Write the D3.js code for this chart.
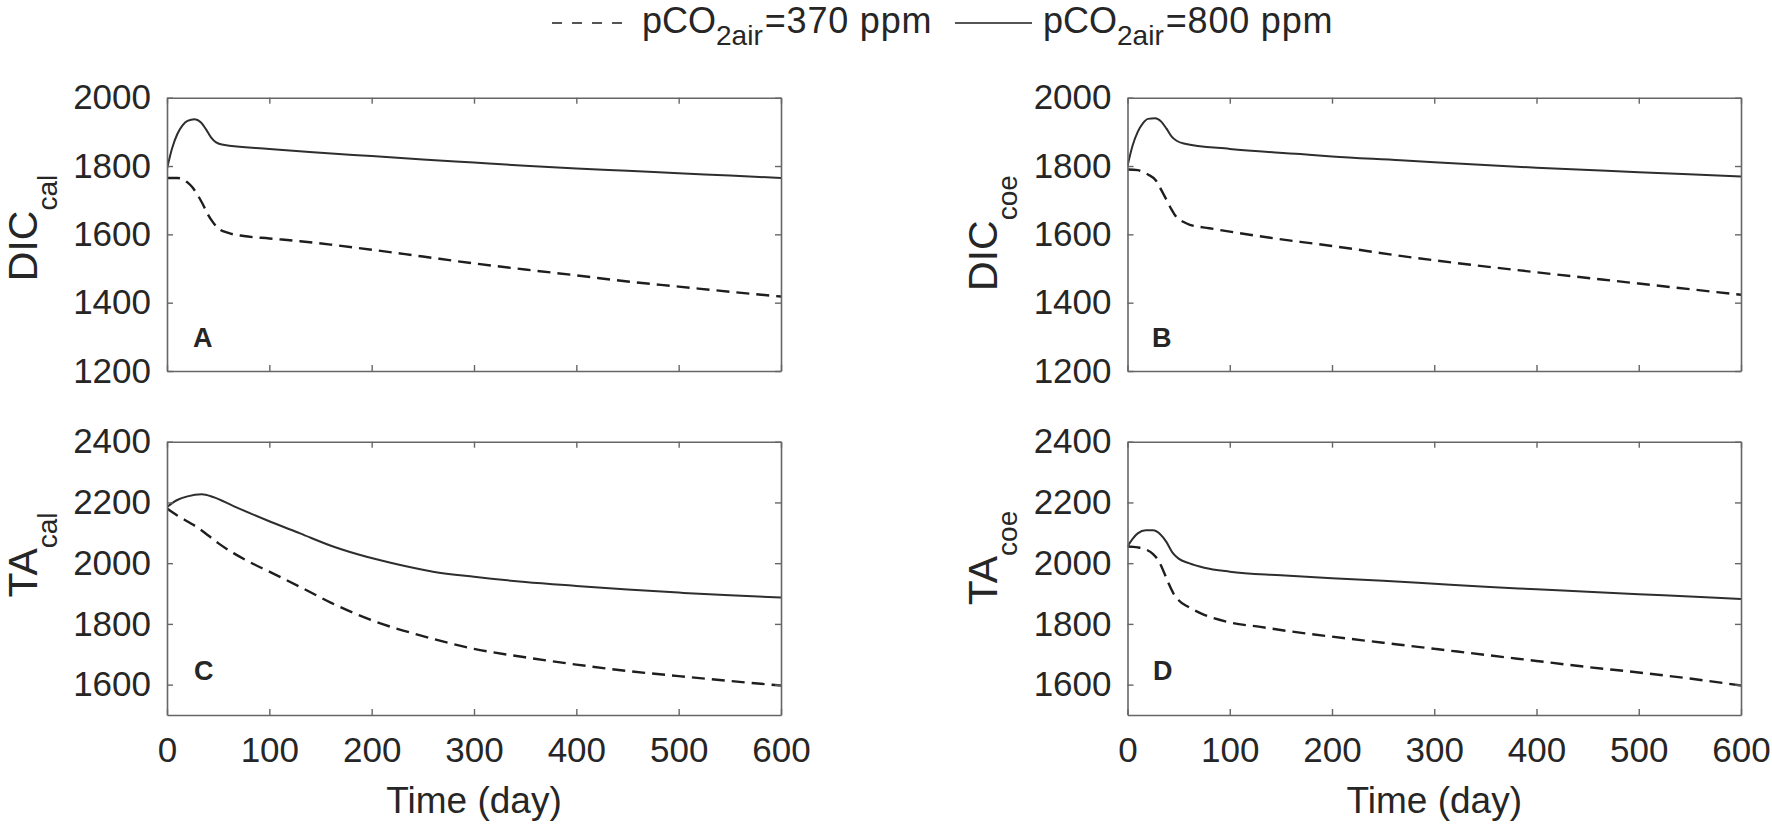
<!DOCTYPE html>
<html>
<head>
<meta charset="utf-8">
<script src="https://cdn.jsdelivr.net/npm/d3@7"></script>
<style>
  body { margin: 0; background: #fff; }
  text { font-family: "Liberation Sans", Arial, Helvetica, sans-serif; fill: #262626; }
</style>
</head>
<body>
<div id="chart"></div>
<script>
// ---- data ----
var xTicks = [0, 100, 200, 300, 400, 500, 600];
var dicTicks = [1200, 1400, 1600, 1800, 2000];
var taTicks = [1600, 1800, 2000, 2200, 2400];
var legendLabels = ["=370 ppm", "=800 ppm"];

// A: DIC_cal
var dicCalDay370 = [0, 10, 15, 20, 25, 30, 35, 40, 45, 50, 60, 75, 100, 130, 160, 200, 250, 300, 350, 400, 450, 500, 550, 600];
var dicCal370 = [1765, 1765, 1762, 1752, 1737, 1715, 1688, 1658, 1635, 1618, 1604, 1595, 1588, 1580, 1570, 1555, 1535, 1515, 1497, 1480, 1462, 1447, 1432, 1418];
var dicCalDay800 = [0, 5, 10, 15, 20, 27, 33, 38, 43, 48, 55, 100, 150, 200, 250, 300, 350, 400, 450, 500, 550, 600];
var dicCal800 = [1792, 1852, 1893, 1918, 1932, 1937, 1928, 1908, 1884, 1869, 1862, 1850, 1839, 1829, 1819, 1810, 1801, 1793, 1786, 1779, 1772, 1765];

// B: DIC_coe
var dicCoeDay370 = [0, 10, 15, 20, 28, 33, 38, 43, 48, 55, 61, 80, 104, 169, 200, 267, 300, 400, 500, 600];
var dicCoe370 = [1790, 1788, 1783, 1775, 1757, 1730, 1702, 1673, 1650, 1636, 1628, 1618, 1606, 1578, 1566, 1537, 1524, 1489, 1456, 1423];
var dicCoeDay800 = [0, 5, 10, 15, 20, 27, 33, 38, 43, 48, 55, 100, 169, 200, 267, 300, 400, 500, 600];
var dicCoe800 = [1800, 1860, 1900, 1925, 1938, 1940, 1930, 1910, 1887, 1874, 1866, 1850, 1835, 1828, 1817, 1811, 1795, 1782, 1769];

// C: TA_cal
var taCalDay370 = [0, 10, 20, 30, 40, 50, 65, 80, 100, 130, 160, 200, 250, 300, 350, 400, 450, 500, 550, 600];
var taCal370 = [2180, 2157, 2137, 2117, 2092, 2066, 2033, 2005, 1972, 1922, 1870, 1812, 1760, 1718, 1690, 1666, 1645, 1628, 1612, 1597];
var taCalDay800 = [0, 10, 20, 34, 45, 65, 97, 130, 163, 195, 228, 260, 300, 350, 400, 450, 500, 550, 600];
var taCal800 = [2185, 2208, 2220, 2227, 2218, 2188, 2142, 2098, 2054, 2021, 1994, 1972, 1955, 1938, 1925, 1913, 1903, 1894, 1887];

// D: TA_coe
var taCoeDay370 = [0, 10, 18, 25, 30, 35, 40, 45, 50, 60, 75, 100, 130, 160, 200, 250, 300, 350, 400, 450, 500, 550, 600];
var taCoe370 = [2055, 2052, 2045, 2030, 2010, 1975, 1935, 1900, 1878, 1855, 1830, 1805, 1790, 1775, 1758, 1738, 1718, 1698, 1678, 1658, 1640, 1620, 1597];
var taCoeDay800 = [0, 5, 10, 18, 25, 32, 38, 44, 50, 60, 75, 100, 150, 200, 250, 300, 350, 400, 450, 500, 550, 600];
var taCoe800 = [2055, 2080, 2098, 2108, 2108, 2095, 2070, 2035, 2015, 2000, 1985, 1972, 1960, 1950, 1942, 1932, 1922, 1914, 1906, 1898, 1890, 1882];

function pairs(days, vals) {
  return days.map(function(d, i){ return [d, vals[i]]; });
}

// ---- layout ----
var W = 1772, H = 827;
var svg = d3.select("#chart").append("svg")
  .attr("width", W).attr("height", H);

var axisColor = "#666";
var lineColor = "#1e1e1e";

var panels = [
  { left: 167, right: 781, top: 97.7, bottom: 371, domain: [1200, 2000], ticks: dicTicks,
    main: "DIC", sub: "cal", labelX: 37, labelY: 228, subDy: 20, letter: "A", letterX: 193, letterY: 347,
    s370: pairs(dicCalDay370, dicCal370), s800: pairs(dicCalDay800, dicCal800), xLabels: false },
  { left: 1127.5, right: 1741, top: 97.7, bottom: 371, domain: [1200, 2000], ticks: dicTicks,
    main: "DIC", sub: "coe", labelX: 997, labelY: 233, subDy: 20, letter: "B", letterX: 1152, letterY: 347,
    s370: pairs(dicCoeDay370, dicCoe370), s800: pairs(dicCoeDay800, dicCoe800), xLabels: false },
  { left: 167, right: 781, top: 441.7, bottom: 715, domain: [1500, 2400], ticks: taTicks,
    main: "TA", sub: "cal", labelX: 37, labelY: 555, subDy: 20, letter: "C", letterX: 194, letterY: 680,
    s370: pairs(taCalDay370, taCal370), s800: pairs(taCalDay800, taCal800), xLabels: true },
  { left: 1127.5, right: 1741, top: 441.7, bottom: 715, domain: [1500, 2400], ticks: taTicks,
    main: "TA", sub: "coe", labelX: 997, labelY: 558, subDy: 20, letter: "D", letterX: 1153, letterY: 680,
    s370: pairs(taCoeDay370, taCoe370), s800: pairs(taCoeDay800, taCoe800), xLabels: true }
];

panels.forEach(function(p, k) {
  var x = d3.scaleLinear().domain([0, 600]).range([p.left, p.right]);
  var y = d3.scaleLinear().domain(p.domain).range([p.bottom, p.top]);
  var g = svg.append("g");

  var line = d3.line()
    .x(function(d){ return x(d[0]); })
    .y(function(d){ return y(d[1]); })
    .curve(d3.curveMonotoneX);

  var clipId = "clip" + k;
  svg.append("clipPath").attr("id", clipId).append("rect")
    .attr("x", p.left).attr("y", p.top)
    .attr("width", p.right - p.left).attr("height", p.bottom - p.top);

  g.append("path").datum(p.s370)
    .attr("d", line).attr("fill", "none")
    .attr("stroke", lineColor).attr("stroke-width", 2.4)
    .attr("stroke-dasharray", "13,7")
    .attr("clip-path", "url(#" + clipId + ")");

  g.append("path").datum(p.s800)
    .attr("d", line).attr("fill", "none")
    .attr("stroke", "#2e2e2e").attr("stroke-width", 2)
    .attr("clip-path", "url(#" + clipId + ")");

  // box and inward ticks on all sides
  var tl = 6;
  var bottomAx = d3.axisBottom(x).tickValues(xTicks).tickSizeInner(-tl).tickSizeOuter(0)
    .tickFormat(p.xLabels ? d3.format("d") : "").tickPadding(22);
  var topAx = d3.axisTop(x).tickValues(xTicks).tickSizeInner(-tl).tickSizeOuter(0).tickFormat("");
  var leftAx = d3.axisLeft(y).tickValues(p.ticks).tickSizeInner(-tl).tickSizeOuter(0)
    .tickFormat(d3.format("d")).tickPadding(16);
  var rightAx = d3.axisRight(y).tickValues(p.ticks).tickSizeInner(-tl).tickSizeOuter(0).tickFormat("");

  var axes = [
    g.append("g").attr("transform", "translate(0," + p.bottom + ")").call(bottomAx),
    g.append("g").attr("transform", "translate(0," + p.top + ")").call(topAx),
    g.append("g").attr("transform", "translate(" + p.left + ",0)").call(leftAx),
    g.append("g").attr("transform", "translate(" + p.right + ",0)").call(rightAx)
  ];
  axes.forEach(function(a) {
    a.select(".domain").attr("stroke", axisColor).attr("stroke-width", 1.6);
    a.selectAll(".tick line").attr("stroke", axisColor).attr("stroke-width", 1.4);
    a.selectAll(".tick text").attr("font-size", 35).attr("fill", "#262626")
      .attr("font-family", "Liberation Sans, Arial, sans-serif");
  });

  // y label with subscript
  var yl = g.append("text")
    .attr("transform", "translate(" + p.labelX + "," + p.labelY + ") rotate(-90)")
    .attr("text-anchor", "middle")
    .attr("font-size", 41);
  yl.append("tspan").text(p.main);
  yl.append("tspan").attr("font-size", 28).attr("dy", p.subDy).text(p.sub);

  // panel letter
  g.append("text").attr("x", p.letterX).attr("y", p.letterY)
    .attr("font-size", 27).attr("font-weight", "bold").attr("fill", "#000")
    .text(p.letter);

  if (p.xLabels) {
    g.append("text").attr("x", (p.left + p.right) / 2).attr("y", 813)
      .attr("text-anchor", "middle").attr("font-size", 37)
      .text("Time (day)");
  }
});

// ---- legend ----
var legend = svg.append("g");
var legendItems = [
  { x1: 552, x2: 622, tx: 642, dash: "10,10", label: legendLabels[0] },
  { x1: 955, x2: 1032, tx: 1043, dash: null, label: legendLabels[1] }
];
legendItems.forEach(function(it) {
  legend.append("line")
    .attr("x1", it.x1).attr("x2", it.x2).attr("y1", 23).attr("y2", 23)
    .attr("stroke", "#555").attr("stroke-width", 2)
    .attr("stroke-dasharray", it.dash);
  var t = legend.append("text").attr("x", it.tx).attr("y", 33).attr("font-size", 36);
  t.append("tspan").text("pCO");
  t.append("tspan").attr("font-size", 28).attr("dy", 12).text("2air");
  t.append("tspan").attr("dy", -12).attr("dx", 2).attr("letter-spacing", 0.8).text(it.label);
});
</script>
</body>
</html>
